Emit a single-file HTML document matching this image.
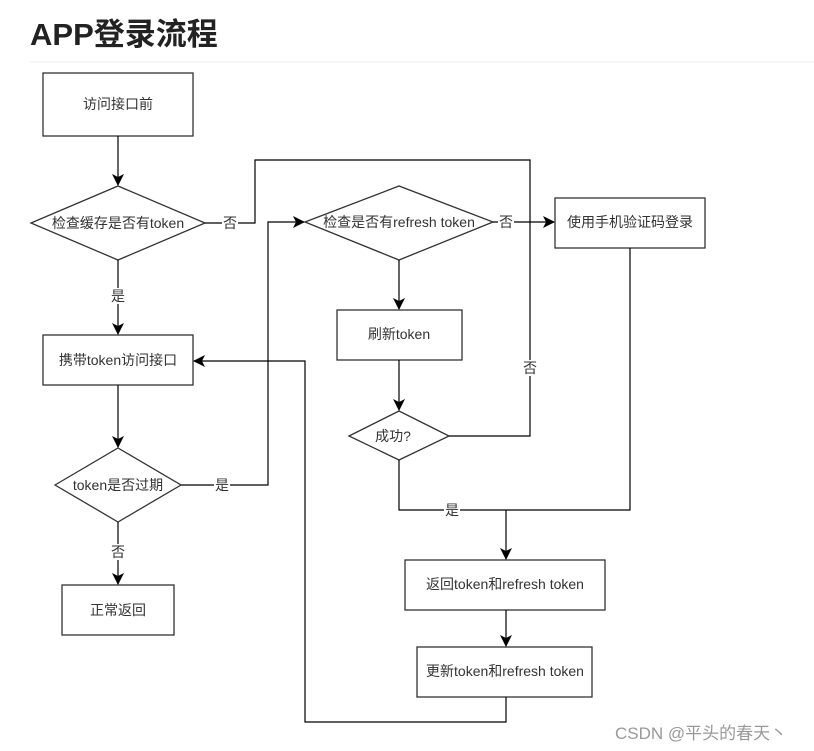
<!DOCTYPE html>
<html><head><meta charset="utf-8"><style>
body{margin:0;background:#fff;width:814px;height:751px;overflow:hidden}
svg{display:block}
text{font-family:"Liberation Sans","Noto Sans CJK SC",sans-serif;font-size:14px;fill:#333}
</style></head><body>
<svg width="814" height="751" xmlns="http://www.w3.org/2000/svg">
<defs><marker id="a" markerWidth="12" markerHeight="12" refX="11" refY="6" orient="auto" markerUnits="userSpaceOnUse"><path d="M0,0 L12,6 L0,12 L3,6 Z" fill="#000"/></marker></defs>
<text x="30" y="45" style="font-size:31px;font-weight:bold;fill:#222">APP登录流程</text>
<line x1="30" y1="62" x2="814" y2="62" stroke="#eee"/>
<g fill="none" stroke="#333" stroke-width="1.3">
<rect x="43" y="73" width="150" height="63"/>
<polygon points="31,223 118,186 205,223 118,260"/>
<rect x="43" y="335" width="150" height="50"/>
<polygon points="55,485 118,448 181,485 118,522"/>
<rect x="62" y="585" width="112" height="50"/>
<polygon points="305,222 399,186 493,222 399,260"/>
<rect x="555" y="198" width="150" height="50"/>
<rect x="337" y="310" width="125" height="50"/>
<polygon points="349,436 399,411 449,436 399,460"/>
<rect x="405" y="560" width="200" height="50"/>
<rect x="417" y="647" width="175" height="50"/>
</g>
<g fill="none" stroke="#000" stroke-width="1.2">
<line x1="118" y1="136" x2="118" y2="185" marker-end="url(#a)"/>
<line x1="118" y1="260" x2="118" y2="334" marker-end="url(#a)"/>
<line x1="118" y1="385" x2="118" y2="447" marker-end="url(#a)"/>
<line x1="118" y1="522" x2="118" y2="584" marker-end="url(#a)"/>
<polyline points="205,223 255,223 255,160 530,160 530,436 449,436"/>
<polyline points="181,485 268,485 268,222 304,222" marker-end="url(#a)"/>
<line x1="493" y1="222" x2="554" y2="222" marker-end="url(#a)"/>
<line x1="399" y1="260" x2="399" y2="309" marker-end="url(#a)"/>
<line x1="399" y1="360" x2="399" y2="410" marker-end="url(#a)"/>
<polyline points="399,460 399,510 630,510 630,248"/>
<line x1="506" y1="510" x2="506" y2="559" marker-end="url(#a)"/>
<line x1="506" y1="610" x2="506" y2="646" marker-end="url(#a)"/>
<polyline points="506,697 506,722 305,722 305,361 194,361" marker-end="url(#a)"/>
</g>
<g fill="#fff">
<rect x="222" y="215" width="16" height="16"/>
<rect x="110" y="288" width="16" height="16"/>
<rect x="214" y="477" width="16" height="16"/>
<rect x="110" y="544" width="16" height="16"/>
<rect x="498" y="214" width="16" height="16"/>
<rect x="522" y="360" width="16" height="16"/>
<rect x="444" y="502" width="16" height="16"/>
</g>
<g text-anchor="middle">
<text x="118" y="109">访问接口前</text>
<text x="118" y="228">检查缓存是否有token</text>
<text x="118" y="365">携带token访问接口</text>
<text x="118" y="490">token是否过期</text>
<text x="118" y="615">正常返回</text>
<text x="399" y="227">检查是否有refresh token</text>
<text x="630" y="227">使用手机验证码登录</text>
<text x="399" y="339">刷新token</text>
<text x="393" y="441">成功?</text>
<text x="505" y="589">返回token和refresh token</text>
<text x="505" y="676">更新token和refresh token</text>
<text x="230" y="228">否</text>
<text x="118" y="301">是</text>
<text x="222" y="490">是</text>
<text x="118" y="557">否</text>
<text x="506" y="227">否</text>
<text x="530" y="373">否</text>
<text x="452" y="515">是</text>
</g>
<text x="615" y="739" style="font-size:17px;fill:#999">CSDN @平头的春天丶</text>
</svg>
</body></html>
